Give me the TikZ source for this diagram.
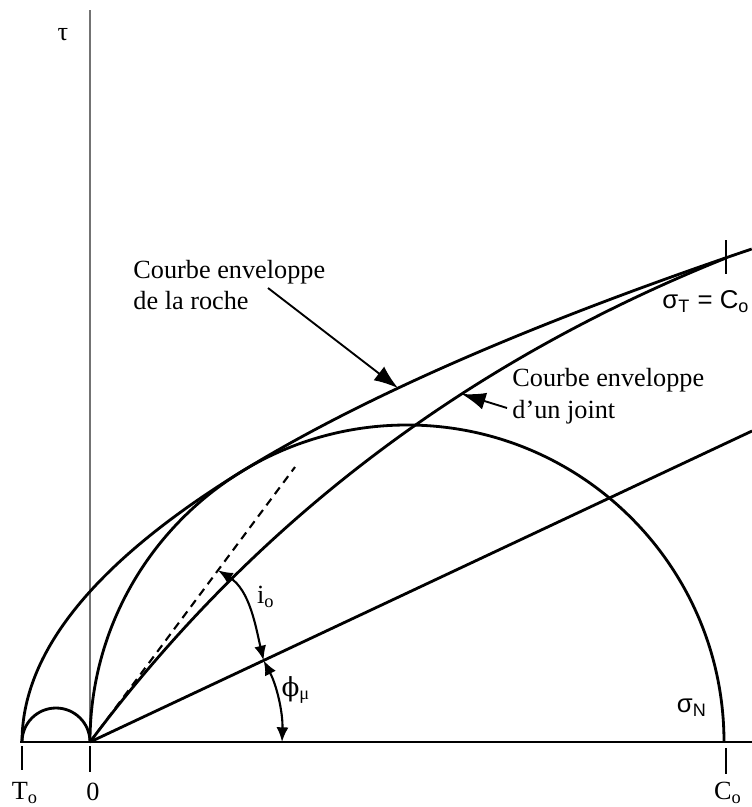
\documentclass[tikz,border=0pt]{standalone}
\usepackage{fontspec}
\setmainfont{Liberation Serif}
\setsansfont{Liberation Sans}
\newfontfamily\phifont{DejaVu Serif}
\usetikzlibrary{arrows.meta}

\begin{document}
\begin{tikzpicture}[x=0.015cm,y=-0.015cm,
  curve/.style={line width=1.2pt},
  axis/.style={line width=0.45pt},
  tick/.style={line width=0.8pt},
  lbl/.style={font=\fontsize{11.2}{13.6}\selectfont,inner sep=0pt},
  sflbl/.style={font=\fontsize{11}{13}\selectfont\sffamily,inner sep=0pt},
  callout/.style={line width=0.8pt,-{Latex[length=3.6mm,width=2.6mm]}},
  anglearrow/.style={line width=0.9pt,{Latex[length=2.2mm,width=1.8mm]}-{Latex[length=2.2mm,width=1.8mm]}}]
\useasboundingbox (0,0) rectangle (752,807);
\coordinate (To) at (22,742);
\coordinate (O) at (90,742);
\coordinate (Co) at (726,742);
\coordinate (St) at (726,258);
\coordinate (Dash) at (295,467);
\coordinate (Phi) at (752,431);
\coordinate (Pa) at (263.6,660.4);
\coordinate (Pb) at (282,742);
\coordinate (Pc) at (218,570.3);
\coordinate (Rk) at (398,388.1);
\coordinate (RkS) at (268,288);
\coordinate (JtS) at (507,408);
\draw[axis] (20,742) -- (752,742);
\draw[axis,black!55] (O) -- (90,10);
\draw[tick] (22,746) -- (22,770);
\draw[tick] (90,746) -- (90,772);
\draw[tick] (726,748) -- (726,774);
\draw[tick] (726,240) -- (726,274);
\draw[curve] (To) arc[start angle=180,end angle=360,radius=34];
\draw[curve] (O) arc[start angle=180,end angle=360,radius=317];
\draw[curve] plot[domain=0:493,samples=120,smooth,variable=\t] ({22+(\t/18.25)^2},{742-\t});
\draw[curve] (O) .. controls (252.7,524) and (464.7,362.7) .. (St) coordinate[pos=0.638] (Jt);
\draw[line width=0.9pt,dash pattern=on 3.5pt off 2.5pt] (O) -- (Dash);
\draw[curve] (O) -- (Phi);
\draw[anglearrow] (Pc) .. controls (250,590) and (256,628) .. (Pa);
\draw[anglearrow] (Pa) .. controls (277,686) and (283,713) .. (Pb);
\draw[callout] (RkS) -- (Rk);
\draw[callout] (JtS) -- (Jt);
\node[lbl,anchor=west,align=left] (rocklbl) at (133,285) {Courbe enveloppe\\de la roche};
\node[lbl,anchor=west,align=left] (jointlbl) at (512,396) {Courbe enveloppe\\d'un joint};
\node[lbl] (tau) at (63,35) {τ};
\node[lbl] (phimu) at (296,690) {{\phifont ϕ}\textsubscript{μ}};
\node[lbl] (io) at (266,597) {i\textsubscript{o}};
\node[sflbl] (sigN) at (692,708) {σ\textsubscript{N}};
\node[sflbl] (sigT) at (706,302) {σ\textsubscript{T} = C\textsubscript{o}};
\node[lbl] (Tolbl) at (25,793) {T\textsubscript{o}};
\node[lbl] (zero) at (93,792) {0};
\node[lbl] (Colbl) at (728,793) {C\textsubscript{o}};
\end{tikzpicture}
\end{document}
